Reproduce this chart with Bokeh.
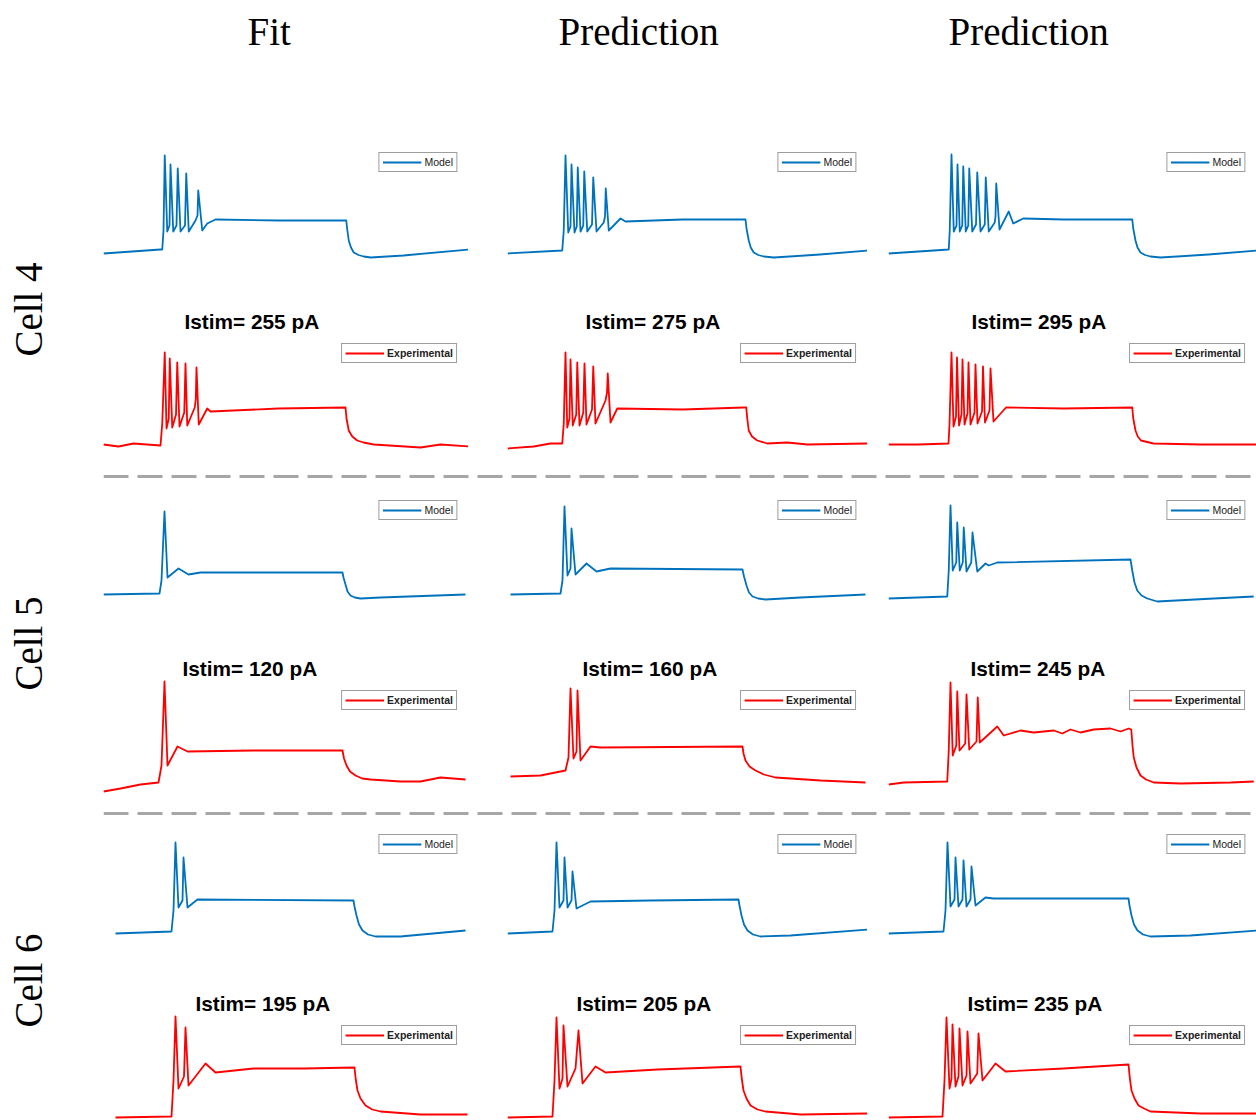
from bokeh.plotting import figure
from bokeh.layouts import column, row
from bokeh.models import Range1d, Legend, LegendItem, Span, Spacer
from bokeh.embed import file_html
from bokeh.resources import INLINE

# ---------------- data ----------------
COLUMN_TITLES = ["Fit", "Prediction", "Prediction"]
CELL_LABELS = ["Cell 4", "Cell 5", "Cell 6"]
ISTIM_PA = [[255, 275, 295], [120, 160, 245], [195, 205, 235]]
SWEEP_END_MS = [1460, 1440, 1472]

# time in ms, membrane potential in mV
C4_FIT_MODEL_T = [0, 228, 235, 240, 245, 255, 264, 268, 279, 292, 297, 308, 326, 331, 341, 368, 376, 379, 395, 415, 448, 700, 971, 975, 981, 990, 1001, 1020, 1041, 1069, 1200, 1460]
C4_FIT_MODEL_V = [-71, -67, -67, -48, 27, -49, -43, 18, -49, -43, 14, -49, -43, 9, -49, -38, -33, -8, -48, -41, -37, -38, -38, -47, -58, -65, -70, -72.5, -74, -75, -73, -67]
C4_PRED1_MODEL_T = [0, 219, 225, 232, 243, 252, 256, 268, 277, 281, 292, 303, 307, 319, 338, 343, 356, 385, 390, 393, 405, 452, 472, 700, 952, 956, 965, 973, 985, 1003, 1025, 1065, 1250, 1440]
C4_PRED1_MODEL_V = [-71, -68, -48, 27, -50, -44, 18, -50, -44, 15, -49, -43, 11, -49, -42, 5, -49, -40, -34, -6, -48, -36, -39, -37, -37, -46, -58, -65, -70, -72.5, -74, -75, -72, -68]
C4_PRED2_MODEL_T = [0, 241, 245, 252, 261, 272, 276, 285, 295, 299, 309, 319, 323, 335, 350, 355, 368, 385, 389, 401, 425, 428, 431, 444, 481, 499, 539, 700, 975, 979, 988, 996, 1008, 1026, 1048, 1088, 1280, 1472]
C4_PRED2_MODEL_V = [-71, -67, -48, 28, -49, -43, 18, -49, -43, 16, -49, -43, 14, -49, -42, 10, -49, -42, 5, -49, -40, -34, -1, -47, -29, -41, -36, -37, -37, -46, -58, -65, -70, -72.5, -74, -75, -72, -68]

C4_FIT_EXP_T = [0, 60, 120, 228, 235, 245, 252, 261, 265, 275, 290, 295, 304, 323, 328, 335, 365, 369, 372, 381, 415, 428, 700, 968, 972, 981, 995, 1015, 1040, 1081, 1268, 1348, 1460]
C4_FIT_EXP_V = [-70, -72, -69, -71, -49, 22, -54, -44, 16, -53, -40, 12, -52, -38, 11, -51, -33, -25, 7, -50, -34, -37, -34, -33, -44, -56, -62, -66, -68, -70, -73, -70, -72]
C4_PRED1_EXP_T = [0, 105, 172, 219, 225, 232, 239, 248, 252, 261, 275, 279, 288, 303, 308, 316, 338, 343, 352, 392, 398, 401, 412, 439, 700, 945, 955, 959, 965, 978, 999, 1039, 1119, 1199, 1440]
C4_PRED1_EXP_V = [-74, -72, -69, -69, -49, 22, -53, -44, 15, -51, -40, 12, -51, -38, 11, -50, -35, 8, -49, -26, -18, 1, -48, -34, -35, -33, -33, -44, -56, -62, -66, -69, -68, -70, -69]
C4_PRED2_EXP_T = [0, 120, 240, 244, 252, 260, 270, 274, 282, 292, 296, 304, 316, 320, 328, 344, 348, 356, 374, 378, 386, 404, 408, 420, 470, 700, 975, 979, 988, 997, 1010, 1060, 1250, 1472]
C4_PRED2_EXP_V = [-70, -70, -69, -50, 22, -52, -42, 17, -51, -40, 15, -50, -39, 12, -50, -38, 10, -49, -37, 8, -48, -36, 6, -47, -33, -34, -33, -44, -56, -62, -66, -69, -70, -70]

C5_FIT_MODEL_T = [0, 224, 232, 244, 256, 300, 340, 388, 956, 960, 968, 976, 988, 1005, 1028, 1108, 1448]
C5_FIT_MODEL_V = [-70, -69, -56, 13, -53, -44, -50, -48, -48, -53, -60, -67, -71, -73, -74, -73, -70]
C5_PRED1_MODEL_T = [12, 212, 220, 228, 240, 252, 256, 272, 316, 356, 412, 940, 946, 956, 966, 980, 1003, 1032, 1172, 1432]
C5_PRED1_MODEL_V = [-70, -69, -56, 18, -51, -44, -4, -50, -39, -47, -44, -45, -52, -61, -68, -72, -74, -75, -73, -70]
C5_PRED2_MODEL_T = [0, 235, 241, 248, 257, 271, 275, 285, 297, 301, 312, 331, 336, 355, 388, 401, 435, 968, 975, 984, 995, 1012, 1035, 1075, 1301, 1461]
C5_PRED2_MODEL_V = [-74, -72, -46, 19, -46, -38, 2, -46, -38, -3, -47, -38, -8, -47, -39, -41, -38, -35, -46, -58, -66, -71, -74, -77, -74, -72]

C5_FIT_EXP_T = [0, 68, 148, 220, 232, 244, 256, 296, 336, 600, 956, 962, 972, 986, 1008, 1035, 1068, 1188, 1268, 1348, 1448]
C5_FIT_EXP_V = [-76, -73, -69, -67, -50, 34, -50, -31, -36, -35, -35, -43, -50, -56, -60, -63, -64, -66, -66, -62, -64]
C5_PRED1_EXP_T = [12, 132, 232, 244, 252, 264, 276, 280, 292, 332, 372, 940, 944, 952, 968, 992, 1025, 1072, 1252, 1432]
C5_PRED1_EXP_V = [-61, -60, -55, -42, 27, -43, -36, 25, -45, -31, -32, -31, -38, -45, -51, -55, -59, -62, -65, -67]
C5_PRED2_EXP_T = [0, 61, 235, 241, 248, 257, 271, 275, 284, 307, 312, 323, 352, 357, 365, 435, 461, 528, 581, 661, 695, 728, 768, 821, 888, 928, 961, 971, 976, 981, 992, 1008, 1030, 1061, 1168, 1368, 1461]
C5_PRED2_EXP_V = [-69, -67, -66, -35, 33, -40, -30, 24, -35, -28, 21, -34, -26, 18, -27, -11, -20, -15, -17, -15, -18, -14, -17, -14, -13, -16, -13, -14, -30, -42, -52, -60, -64, -67, -68, -67, -66]

C6_FIT_MODEL_T = [48, 272, 280, 288, 300, 316, 320, 336, 376, 1000, 1004, 1012, 1022, 1036, 1058, 1088, 1188, 1448]
C6_FIT_MODEL_V = [-71, -69, -48, 20, -45, -38, 5, -45, -37, -38, -44, -53, -62, -68, -72, -74, -74, -68]
C6_PRED1_MODEL_T = [0, 180, 188, 196, 208, 224, 228, 240, 256, 260, 276, 332, 572, 924, 928, 936, 946, 960, 982, 1012, 1132, 1440]
C6_PRED1_MODEL_V = [-71, -69, -48, 20, -45, -38, 5, -45, -38, -9, -46, -39, -38, -37, -43, -53, -62, -68, -72, -74, -73, -67]
C6_PRED2_MODEL_T = [0, 220, 228, 236, 248, 264, 268, 280, 296, 300, 312, 328, 332, 348, 388, 420, 960, 964, 972, 982, 996, 1018, 1048, 1208, 1472]
C6_PRED2_MODEL_V = [-71, -69, -48, 20, -44, -37, 5, -44, -37, 2, -44, -37, -4, -43, -35, -36, -36, -43, -53, -62, -68, -72, -74, -73, -68]

C6_FIT_EXP_T = [48, 272, 280, 288, 300, 322, 328, 340, 408, 448, 600, 800, 1004, 1009, 1016, 1028, 1048, 1075, 1108, 1268, 1456]
C6_FIT_EXP_V = [-71, -70, -34, 30, -42, -30, 19, -39, -17, -26, -22, -22, -21, -33, -44, -52, -59, -63, -65, -68, -68]
C6_PRED1_EXP_T = [0, 180, 188, 196, 208, 220, 224, 240, 272, 284, 300, 352, 392, 600, 932, 937, 944, 956, 972, 1000, 1032, 1172, 1440]
C6_PRED1_EXP_V = [-71, -70, -34, 29, -42, -32, 21, -40, -22, 16, -37, -20, -26, -23, -20, -32, -44, -52, -59, -63, -65, -68, -67]
C6_PRED2_EXP_T = [0, 216, 224, 232, 244, 252, 256, 268, 280, 284, 296, 312, 316, 328, 355, 360, 376, 428, 468, 700, 960, 965, 972, 984, 1000, 1022, 1048, 1248, 1472]
C6_PRED2_EXP_V = [-71, -70, -34, 29, -42, -32, 22, -40, -30, 18, -39, -29, 15, -37, -27, 13, -34, -17, -25, -22, -18, -31, -44, -52, -59, -62, -65, -67, -67]

MODEL_TRACES = [
    [(C4_FIT_MODEL_T, C4_FIT_MODEL_V), (C4_PRED1_MODEL_T, C4_PRED1_MODEL_V), (C4_PRED2_MODEL_T, C4_PRED2_MODEL_V)],
    [(C5_FIT_MODEL_T, C5_FIT_MODEL_V), (C5_PRED1_MODEL_T, C5_PRED1_MODEL_V), (C5_PRED2_MODEL_T, C5_PRED2_MODEL_V)],
    [(C6_FIT_MODEL_T, C6_FIT_MODEL_V), (C6_PRED1_MODEL_T, C6_PRED1_MODEL_V), (C6_PRED2_MODEL_T, C6_PRED2_MODEL_V)],
]
EXP_TRACES = [
    [(C4_FIT_EXP_T, C4_FIT_EXP_V), (C4_PRED1_EXP_T, C4_PRED1_EXP_V), (C4_PRED2_EXP_T, C4_PRED2_EXP_V)],
    [(C5_FIT_EXP_T, C5_FIT_EXP_V), (C5_PRED1_EXP_T, C5_PRED1_EXP_V), (C5_PRED2_EXP_T, C5_PRED2_EXP_V)],
    [(C6_FIT_EXP_T, C6_FIT_EXP_V), (C6_PRED1_EXP_T, C6_PRED1_EXP_V), (C6_PRED2_EXP_T, C6_PRED2_EXP_V)],
]

# ---------------- layout / style ----------------
BLUE = "#0072BD"
RED = "#FF0000"
COL_W = [365, 360, 368]
GAPS = [39, 21]
LABEL_W = 103
HEADER_H = 141
HEADER_OFFSET = [144, 51, 60]
MODEL_FRAME_H = [121, 115, 117]
MODEL_YR = [(-80, 41), (-80, 35), (-78, 39)]
EXP_TOP = [70, 75, 74]
EXP_FRAME_H = [118, 116, 106]
EXP_YR = [(-76, 42), (-80, 36), (-74, 32)]
LABEL_TOP = [27, 2, 17]
ISTIM_OFFSET = [[81, 78, 83], [79, 75, 82], [92, 69, 79]]
SEP_H = [39, 28]
SEP_TOP = [13, 8]


def blank(w, h, xr=(0, 1), yr=(0, 1), top=0, **kw):
    p = figure(width=w, height=h, x_range=Range1d(*xr), y_range=Range1d(*yr),
               x_axis_location=None, y_axis_location=None, toolbar_location=None,
               output_backend="svg", min_border=0, **kw)
    p.min_border_top = top
    p.min_border_bottom = 0
    p.min_border_left = 0
    p.min_border_right = 0
    p.grid.visible = False
    p.outline_line_color = None
    p.background_fill_color = "white"
    p.border_fill_color = "white"
    return p


def trace_panel(w, h, xend, yr, t, v, color, label, bold, top=0):
    p = blank(w, h, (0, xend), yr, top=top)
    r = p.line(t, v, line_color=color, line_width=1.8, line_join="round")
    leg = Legend(items=[LegendItem(label=label, renderers=[r])],
                 location="top_right", margin=11, padding=3, spacing=0,
                 glyph_width=39, glyph_height=8, label_height=8, label_standoff=3,
                 label_text_font="Liberation Sans", label_text_font_size="10.5px",
                 label_text_font_style="bold" if bold else "normal",
                 label_text_color="#222222",
                 border_line_color="#3c3c3c", border_line_width=1,
                 background_fill_color="white", background_fill_alpha=1)
    p.add_layout(leg)
    return p


rows = []

# header
hdr = [Spacer(width=LABEL_W, height=HEADER_H)]
for c in range(3):
    h = blank(COL_W[c], HEADER_H, title=COLUMN_TITLES[c])
    h.title.text_font = "Liberation Serif"
    h.title.text_font_size = "39px"
    h.title.text_font_style = "normal"
    h.title.text_color = "black"
    h.title.align = "left"
    h.title.offset = HEADER_OFFSET[c]
    h.title.standoff = 15
    hdr.append(h)
    if c < 2:
        hdr.append(Spacer(width=GAPS[c], height=HEADER_H))
rows.append(row(hdr, spacing=0))

for b in range(3):
    block_h = MODEL_FRAME_H[b] + EXP_TOP[b] + EXP_FRAME_H[b]
    lab = blank(LABEL_W, block_h, top=LABEL_TOP[b], title=CELL_LABELS[b], title_location="left")
    lab.title.text_font = "Liberation Serif"
    lab.title.text_font_size = "39px"
    lab.title.text_font_style = "normal"
    lab.title.text_color = "black"
    lab.title.align = "center"
    lab.title.standoff = 8
    children = [lab]
    for c in range(3):
        mt, mv = MODEL_TRACES[b][c]
        et, ev = EXP_TRACES[b][c]
        pm = trace_panel(COL_W[c], MODEL_FRAME_H[b], SWEEP_END_MS[c], MODEL_YR[b],
                         mt, mv, BLUE, "Model", False)
        pe = trace_panel(COL_W[c], EXP_TOP[b] + EXP_FRAME_H[b], SWEEP_END_MS[c], EXP_YR[b],
                         et, ev, RED, "Experimental", True, top=EXP_TOP[b])
        pe.title.text = f"Istim= {ISTIM_PA[b][c]} pA"
        pe.title.text_font = "Liberation Sans"
        pe.title.text_font_size = "20.8px"
        pe.title.text_font_style = "bold"
        pe.title.text_color = "black"
        pe.title.align = "left"
        pe.title.offset = ISTIM_OFFSET[b][c]
        pe.title.standoff = 0
        children.append(column(pm, pe, spacing=0))
        if c < 2:
            children.append(Spacer(width=GAPS[c], height=block_h))
    rows.append(row(children, spacing=0))
    if b < 2:
        sw = sum(COL_W) + sum(GAPS)
        s = blank(sw, SEP_H[b], yr=(-1, 1), top=SEP_TOP[b])
        s.add_layout(Span(location=0, dimension="width", line_color="#A6A6A6",
                          line_width=3, line_dash="25 9"))
        rows.append(row(Spacer(width=LABEL_W, height=SEP_H[b]), s, spacing=0))

layout = column(rows, spacing=0)

with open("out.html", "w") as f:
    f.write(file_html(layout, INLINE, "Fit and prediction traces"))
